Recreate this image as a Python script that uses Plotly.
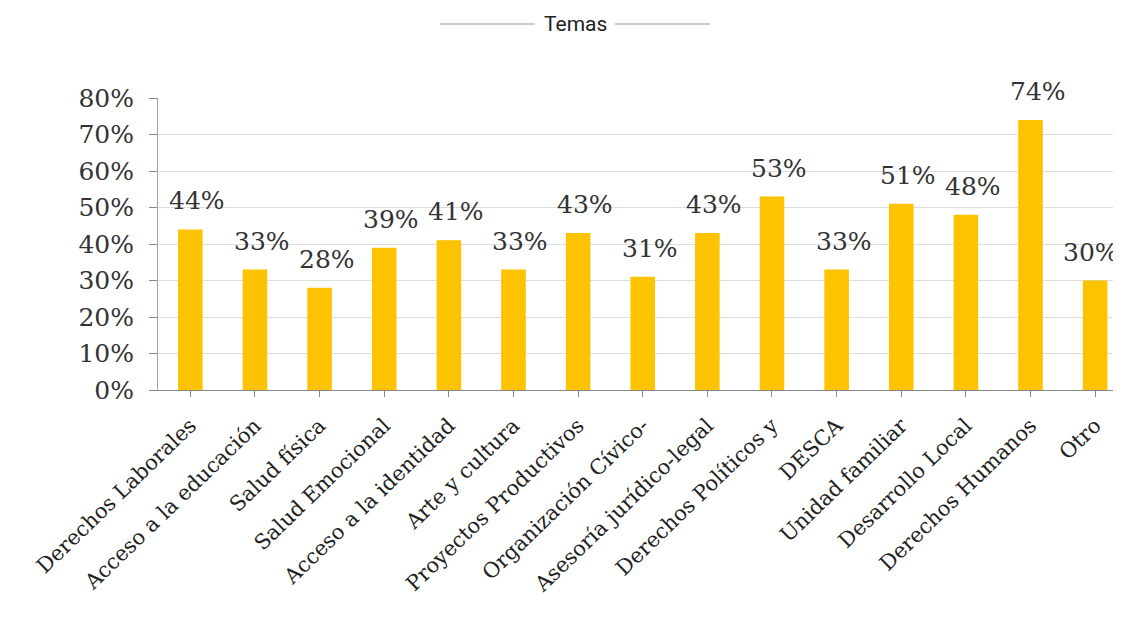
import plotly.graph_objects as go

categories = ["Derechos Laborales", "Acceso a la educación", "Salud física", "Salud Emocional",
              "Acceso a la identidad", "Arte y cultura", "Proyectos Productivos", "Organización Cívico-",
              "Asesoría jurídico-legal", "Derechos Políticos y", "DESCA", "Unidad familiar",
              "Desarrollo Local", "Derechos Humanos", "Otro"]
values = [44, 33, 28, 39, 41, 33, 43, 31, 43, 53, 33, 51, 48, 74, 30]
y_ticks = [0, 10, 20, 30, 40, 50, 60, 70, 80]
y_tick_labels = [f"{v}%" for v in y_ticks]

serif = "DejaVu Serif"

W, H = 1113, 625
L, T, B = 150, 90, 243
PW = W - L
PH = H - T - B

fig = go.Figure()
fig.add_trace(go.Bar(
    x=list(range(len(categories))), y=values, width=0.38,
    marker=dict(color="#FDC300", line=dict(width=0)),
    hoverinfo="skip",
))

n = len(values)
for i, v in enumerate(values):
    fig.add_annotation(x=i, y=v, text=f"{v}%", showarrow=False, xanchor="center",
                       yanchor="bottom", xshift=(7 if i < n - 1 else -4), yshift=12,
                       font=dict(family=serif, size=25, color="#333333"))

fig.update_layout(
    width=W, height=H,
    margin=dict(l=L, r=0, t=T, b=B, autoexpand=False),
    paper_bgcolor="white", plot_bgcolor="white",
    showlegend=False,
    xaxis=dict(
        range=[-0.5, 14.4],
        tickmode="array", tickvals=list(range(len(categories))), ticktext=categories,
        tickangle=-44, tickson="boundaries", ticks="outside", ticklen=6, tickcolor="#888888",
        ticklabelstandoff=8,
        showline=True, linecolor="#888888", linewidth=1, showgrid=False, zeroline=False,
        tickfont=dict(family=serif, size=21, color="#222222"),
        automargin=False,
    ),
    yaxis=dict(
        range=[0, 80],
        tickmode="array", tickvals=y_ticks, ticktext=y_tick_labels,
        ticks="outside", ticklen=8, tickcolor="#888888",
        ticklabelstandoff=10,
        showline=True, linecolor="#9aaaaa", linewidth=1,
        showgrid=True, gridcolor="#dddddd", gridwidth=1, zeroline=False,
        tickfont=dict(family=serif, size=25, color="#333333"),
        automargin=False,
    ),
)

# Title with decorative lines
fig.add_annotation(xref="paper", yref="paper", x=(567 - L) / PW, y=1 + (T - 16) / PH,
                   text="Temas", showarrow=False, xanchor="center", yanchor="middle",
                   font=dict(family="Liberation Sans Narrow, Arial Narrow, Roboto", size=21, color="#222222"))
for x0, x1 in [(432, 527), (607, 702)]:
    fig.add_shape(type="line", xref="paper", yref="paper",
                  x0=(x0 - L) / PW, x1=(x1 - L) / PW,
                  y0=1 + (T - 16) / PH, y1=1 + (T - 16) / PH,
                  line=dict(color="#999999", width=1))

fig.write_html("out.html")
